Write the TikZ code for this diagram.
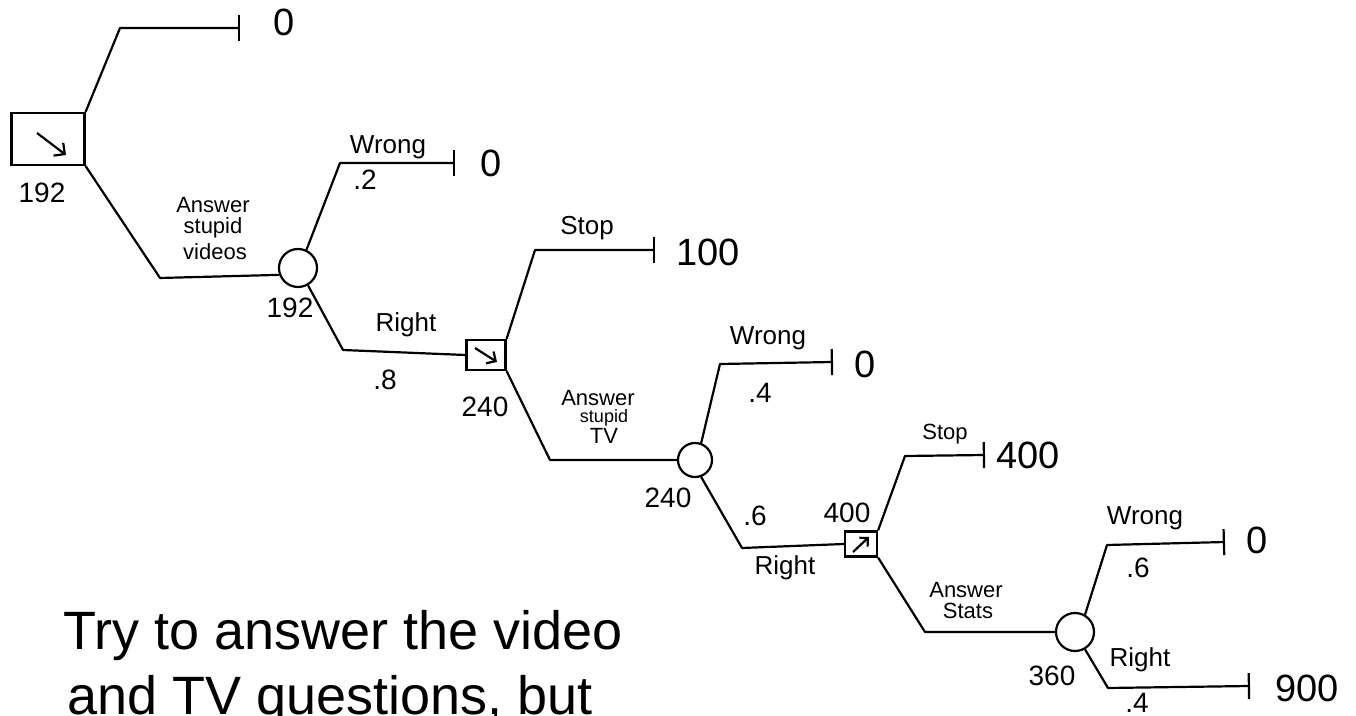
\documentclass[tikz,border=0pt]{standalone}
\usepackage{fontspec}
\setmainfont{Liberation Sans}
\usetikzlibrary{arrows.meta,calc}
\begin{document}
\begin{tikzpicture}[x=0.5pt,y=-0.5pt,
  line width=1.1pt,
  decision/.style={draw,rectangle,inner sep=0pt,line width=1.1pt},
  chance/.style={draw,circle,inner sep=0pt,line width=1.1pt},
  branch/.style={line width=1.1pt,line join=round},
  endbranch/.style={branch,-{Bar[width=13pt,line width=1.1pt]}},
  val/.style={font=\fontsize{14}{16}\selectfont,inner sep=1pt},
  payoff/.style={font=\fontsize{19}{21}\selectfont,anchor=west,inner sep=1pt},
  lab/.style={font=\fontsize{13}{15}\selectfont,inner sep=1pt},
  small/.style={font=\fontsize{11}{13}\selectfont,inner sep=0pt},
  note/.style={font=\fontsize{27}{31}\selectfont,anchor=base west,inner sep=0pt}]
\useasboundingbox (0,0) rectangle (1356,716);
\clip (0,0) rectangle (1356,716);

% decision and chance nodes
\node[decision,minimum width=36.5pt,minimum height=26pt] (sq1) at (48,139) {};
\node[chance,minimum size=19pt] (c1) at (298,268) {};
\node[decision,minimum width=19.5pt,minimum height=15pt] (sq2) at (486,355) {};
\node[chance,minimum size=17pt] (c2) at (695,460) {};
\node[decision,minimum width=16pt,minimum height=12.5pt] (sq3) at (861,544) {};
\node[chance,minimum size=19pt] (c3) at (1075,632) {};

% arrows inside decision squares
\draw[-{Straight Barb[length=4pt]}] ($(sq1.center)+(-11,-6)$) -- ($(sq1.center)+(18,16)$);
\draw[-{Straight Barb[length=3.5pt]}] ($(sq2.center)+(-11,-7)$) -- ($(sq2.center)+(11,7)$);
\draw[-{Straight Barb[length=3pt]}] ($(sq3.center)+(-8,8)$) -- ($(sq3.center)+(8,-7)$);

% terminal points
\coordinate (t1) at (240,28);
\coordinate (t2) at (455,163);
\coordinate (t3) at (655,250);
\coordinate (t4) at (833,362);
\coordinate (t5) at (985,455);
\coordinate (t6) at (1225,542);
\coordinate (t7) at (1250,686);

% branches
\draw[endbranch] (sq1.north east) -- (120,28) -- (t1);
\draw[branch] (sq1.south east) -- (160,278) -- (c1.200);
\draw[endbranch] (c1.65) -- (340,163) -- (t2);
\draw[branch] (c1.-60) -- (343,350) -- (sq2.west);
\draw[endbranch] (sq2.north east) -- (535,250) -- (t3);
\draw[branch] (sq2.south east) -- (550,460) -- (c2.west);
\draw[endbranch] (c2.70) -- (720,364) -- (t4);
\draw[branch] (c2.-70) -- (742,548) -- (sq3.west);
\draw[endbranch] (sq3.north east) -- (905,456) -- (t5);
\draw[branch] (sq3.south east) -- (925,632) -- (c3.west);
\draw[endbranch] (c3.60) -- (1107,545) -- (t6);
\draw[endbranch] (c3.-60) -- (1108,688) -- (t7);

% payoffs
\node[payoff] (p1) at ($(t1)+(30,-6)$) {0};
\node[payoff] (p2) at ($(t2)+(22,0)$) {0};
\node[payoff] (p3) at ($(t3)+(18,2)$) {100};
\node[payoff] (p4) at ($(t4)+(18,2)$) {0};
\node[payoff] (p5) at ($(t5)+(8,0)$) {400};
\node[payoff] (p6) at ($(t6)+(18,-2)$) {0};
\node[payoff] (p7) at ($(t7)+(22,2)$) {900};

% node values
\node[val] (v1) at (42,193) {192};
\node[val] (v2) at (290,308) {192};
\node[val] (v3) at (485,407) {240};
\node[val] (v4) at (668,498) {240};
\node[val] (v5) at (847,513) {400};
\node[val] (v6) at (1052,676) {360};

% branch labels
\node[small] (a1) at (213,205) {Answer};
\node[small] (a2) at (213,228) {stupid};
\node[small] (a3) at (215,252) {videos};
\node[lab] (w1) at (388,147) {Wrong};
\node[val] (q1) at (365,180) {.2};
\node[lab] (r1) at (406,325) {Right};
\node[val] (q2) at (385,380) {.8};
\node[lab] (s1) at (587,228) {Stop};
\node[small] (b1) at (598,398) {Answer};
\node[small,font=\fontsize{9}{11}\selectfont] (b2) at (604,418) {stupid};
\node[small] (b3) at (604,436) {TV};
\node[lab] (w2) at (768,338) {Wrong};
\node[val] (q3) at (760,393) {.4};
\node[val] (q4) at (755,516) {.6};
\node[lab] (r2) at (785,568) {Right};
\node[small] (s2) at (945,434) {Stop};
\node[small] (d1) at (966,590) {Answer};
\node[small] (d2) at (968,611) {Stats};
\node[lab] (w3) at (1145,518) {Wrong};
\node[val] (q5) at (1138,568) {.6};
\node[lab] (r3) at (1140,660) {Right};
\node[val] (q6) at (1137,703) {.4};

% note
\node[note] (n1) at (62,650) {Try to answer the video};
\node[note] (n2) at (66,714) {and TV questions, but};
\end{tikzpicture}
\end{document}
